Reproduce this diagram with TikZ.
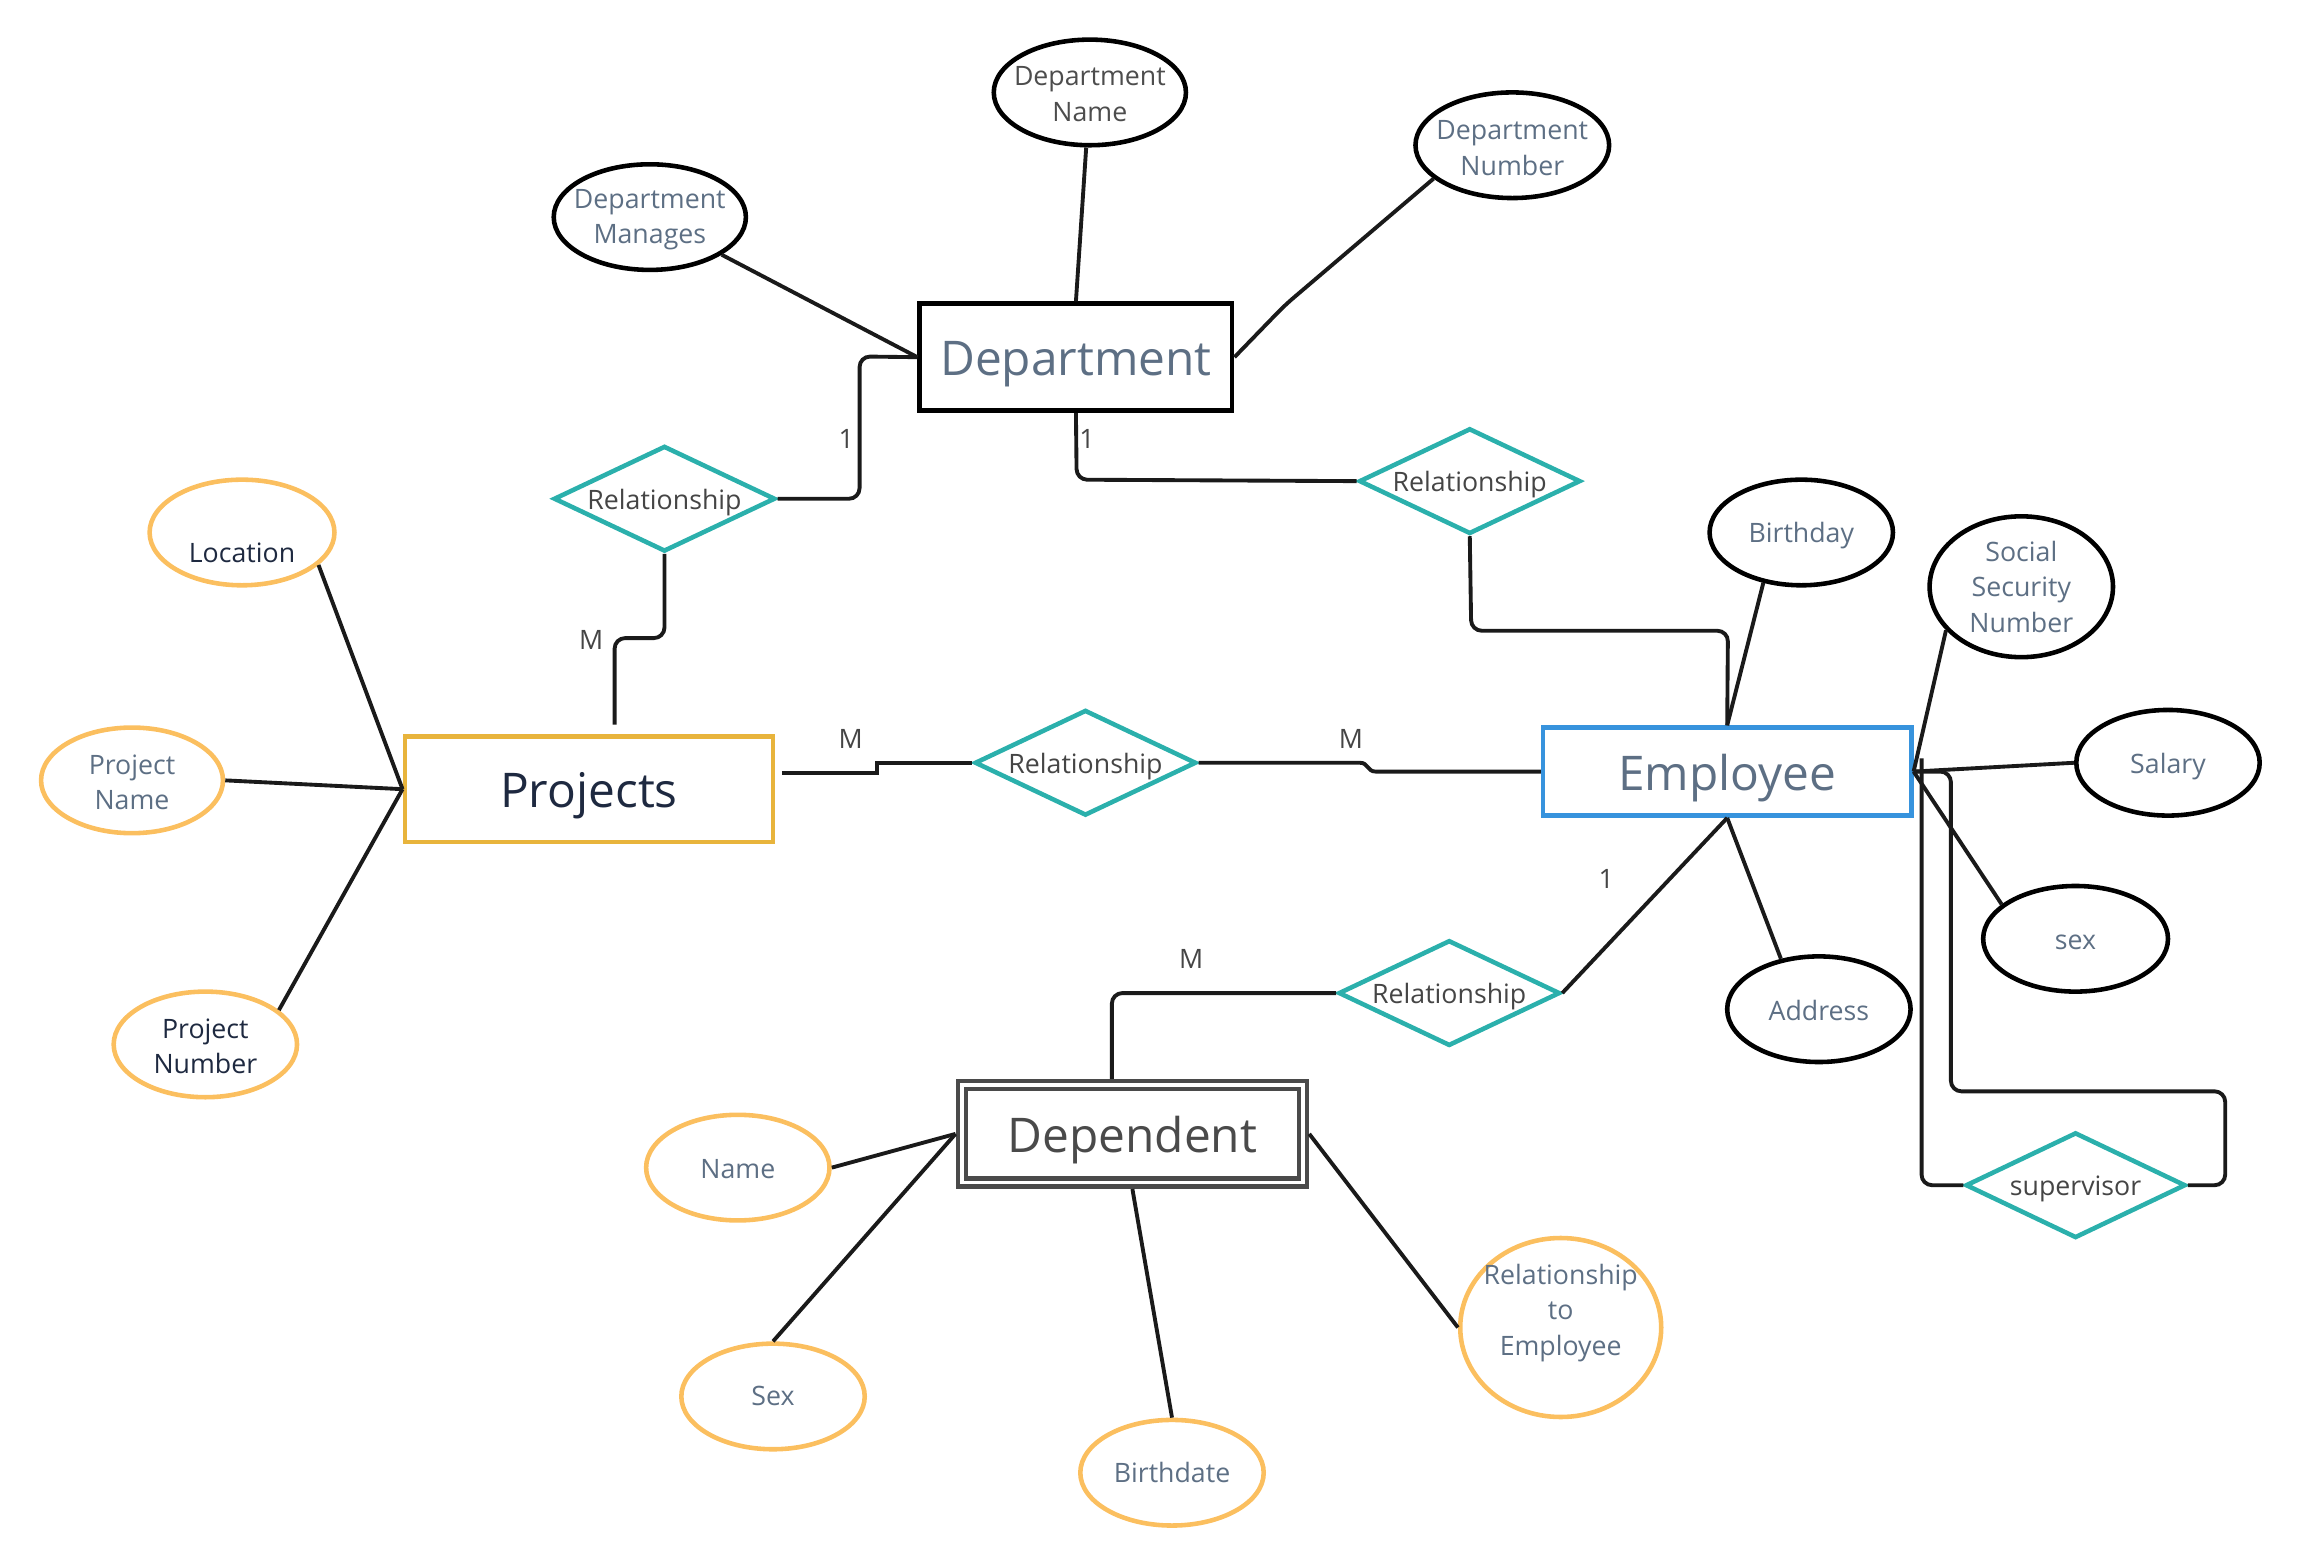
\documentclass[tikz,border=0pt]{standalone}
\usepackage{fontspec}
\setmainfont{Open Sans}
\usetikzlibrary{shapes.geometric,calc}
\newcommand\pxu{0.4173pt}
\definecolor{slate}{HTML}{5D6F84}
\definecolor{dgray}{HTML}{4D4D4D}
\definecolor{navy}{HTML}{1E2940}
\definecolor{reltext}{HTML}{454545}
\definecolor{tealC}{HTML}{2BB0AC}
\definecolor{orangeC}{HTML}{FBBF5F}
\definecolor{goldC}{HTML}{E8B43C}
\definecolor{blueC}{HTML}{3793DD}
\definecolor{depC}{HTML}{4A4A4A}
\definecolor{lineC}{HTML}{1A1A1A}
\begin{document}
\begin{tikzpicture}[x=0.014668cm,y=-0.014668cm,
  ent/.style={rectangle, line width=1.3pt, inner sep=0pt, text height=10.5pt, text depth=0pt, font=\fontsize{13.6}{16}\selectfont},
  attrB/.style={ellipse, draw=black, line width=1.3pt, inner sep=0pt, minimum width={125*\pxu}, minimum height={72*\pxu}},
  attrO/.style={ellipse, draw=orangeC, line width=1.3pt, inner sep=0pt, minimum width={125*\pxu}, minimum height={72*\pxu}},
  rel/.style={diamond, draw=tealC, line width=1.3pt, inner sep=0pt, aspect=2, minimum width={151*\pxu}, minimum height={72*\pxu}},
  small/.style={font=\fontsize{7.6}{10.1}\selectfont, align=center},
  one/.style={yshift=-1pt},
  half/.style={yshift=-0.5pt},
  tS/.style={small, text=slate},
  tD/.style={small, text=dgray},
  tN/.style={small, text=navy},
  tR/.style={small, text=reltext},
  card/.style={font=\fontsize{7.6}{10.1}\selectfont, text=reltext, inner sep=0pt},
  conn/.style={draw=lineC, line width=1.1pt, rounded corners=3pt},
]
\useasboundingbox (0,0) rectangle (1568,1068);

% entities
\node[ent, draw=black, minimum width={213*\pxu}, minimum height={73*\pxu}, text=slate] (dept) at (733.5,243.5) {Department};
\node[ent, draw=goldC, minimum width={251*\pxu}, minimum height={72*\pxu}, text=navy] (proj) at (401.5,538) {Projects};
\node[ent, draw=blueC, minimum width={251*\pxu}, minimum height={60*\pxu}, text=slate] (emp) at (1177.5,526) {Employee};
\node[ent, draw=depC, minimum width={238*\pxu}, minimum height={72*\pxu}, text=depC] (dep) at (772,773) {Dependent};
\draw[draw=depC, line width=1.3pt] ($(dep.north west)+(7,7)$) rectangle ($(dep.south east)+(-7,-7)$);

% attributes of Department
\node[attrB, minimum width={131*\pxu}, label={[tD, half]center:Department\\Name}] (dname) at (743,63) {};
\node[attrB, minimum width={131*\pxu}, label={[tS, yshift=-0.8pt]center:Department\\Manages}] (dman) at (443,148) {};
\node[attrB, minimum width={132*\pxu}, label={[tS, yshift=-0.8pt]center:Department\\Number}] (dnum) at (1031,99) {};

% attributes of Projects
\node[attrO, minimum width={126*\pxu}, label={[tN, yshift=-5.8pt]center:Location}] (loc) at (165,363) {};
\node[attrO, minimum width={124*\pxu}, label={[tS, half]center:Project\\Name}] (pname) at (90,532) {};
\node[attrO, label={[tN, half]center:Project\\Number}] (pnum) at (140,712) {};

% attributes of Employee
\node[attrB, label={[tS, one]center:Birthday}] (bday) at (1228,363) {};
\node[attrB, minimum height={96*\pxu}, label={[tS]center:Social\\Security\\Number}] (ssn) at (1378,400) {};
\node[attrB, label={[tS, one]center:Salary}] (sal) at (1478,520) {};
\node[attrB, minimum width={126*\pxu}, label={[tS, one]center:sex}] (sex) at (1415,640) {};
\node[attrB, label={[tS, half]center:Address}] (addr) at (1240,688) {};

% attributes of Dependent
\node[attrO, label={[tS, half]center:Name}] (nm) at (503,796) {};
\node[attrO, label={[tS]center:Sex}] (sx) at (527,952) {};
\node[attrO, label={[tS]center:Birthdate}] (bdate) at (799,1004) {};
\node[attrO, minimum width={137*\pxu}, minimum height={122*\pxu}, label={[tS, yshift=4.2pt]center:Relationship\\to\\Employee}] (rte) at (1064,905) {};

% relationships
\node[rel, label={[tR, one]center:Relationship}] (r1) at (453,340) {};
\node[rel, label={[tR, one]center:Relationship}] (r2) at (1002,328) {};
\node[rel, label={[tR, one]center:Relationship}] (r3) at (740,520) {};
\node[rel, label={[tR, one]center:Relationship}] (r4) at (988,677) {};
\node[rel, minimum width={150*\pxu}, label={[tR, one]center:supervisor}] (sup) at (1415,808) {};

% free ends
\coordinate (pm) at (419,494);
\coordinate (pr) at (533,527);
\coordinate (supTop) at (1310,517);

% connectors: Department attributes
\draw[conn] (dman) -- (dept.west);
\draw[conn] (dname) -- (dept.north);
\draw[conn] (dnum.203) -- (876,208) -- (dept.east);

% Department relationships
\draw[conn] (r1.east) -- (586,340) -- (586,243) -- (dept.west);
\draw[conn] (r1.south) -- (453,435) -- (419,435) -- (pm);
\draw[conn] (dept.south) -- (734,327) -- (r2.west);
\draw[conn] (r2.south) -- (1003,430) -- (1178,430) -- (emp.north);

% Projects - Employee
\draw[conn, sharp corners] (pr) -- (598,527) -- (598,520) -- (r3.west);
\draw[conn] (r3.east) -- (920,520) .. controls (933,520) and (932,526) .. (945,526) -- (emp.west);

% Projects attributes
\draw[conn] (loc.-23) -- (proj.west);
\draw[conn] (pname.east) -- (proj.west);
\draw[conn] (pnum.25) -- (proj.west);

% Employee attributes
\draw[conn] (bday.233) -- (emp.north);
\draw[conn] (ssn.210) -- (emp.east);
\draw[conn] (sal.west) -- (emp.east);
\draw[conn] (sex.155) -- (emp.east);
\draw[conn] (addr.127) -- (emp.south);

% supervisor loop
\draw[conn] (emp.east) -- (1330,526) -- (1330,744) -- (1517,744) -- (1517,808) -- (sup.east);
\draw[conn] (supTop) -- (1310,808) -- (sup.west);

% Employee - Dependent
\draw[conn] (emp.south) -- (r4.east);
\draw[conn] (r4.west) -- (758,677) -- ($(dep.north)+(-14,0)$);

% Dependent attributes
\draw[conn] (nm.east) -- (dep.west);
\draw[conn] (sx.north) -- (dep.west);
\draw[conn] (bdate.north) -- (dep.south);
\draw[conn] (rte.west) -- (dep.east);

% cardinalities
\node[card] (c1) at (577,299) {1};
\node[card] (c2) at (741,299) {1};
\node[card] (c3) at (403,436) {M};
\node[card] (c4) at (580,504) {M};
\node[card] (c5) at (921,504) {M};
\node[card] (c6) at (1095,599) {1};
\node[card] (c7) at (812,654) {M};
\end{tikzpicture}
\end{document}
